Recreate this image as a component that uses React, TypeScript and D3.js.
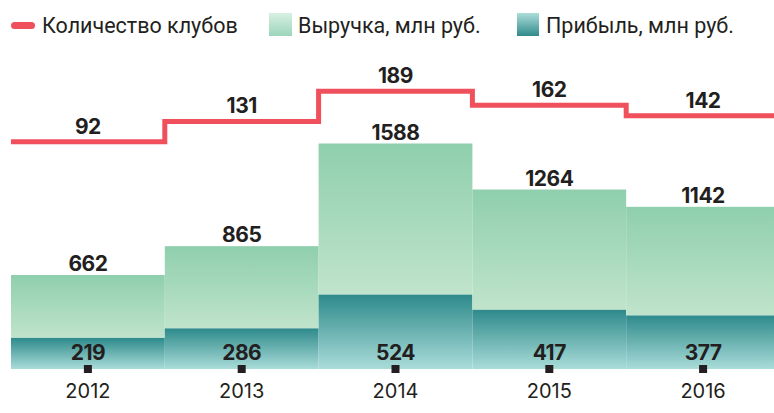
import React from 'react';
import * as d3 from 'd3';

const years = ['2012', '2013', '2014', '2015', '2016'];
const clubs = [92, 131, 189, 162, 142];
const revenue = [662, 865, 1588, 1264, 1142];
const profit = [219, 286, 524, 417, 377];
const legendLabels = ['Количество клубов', 'Выручка, млн руб.', 'Прибыль, млн руб.'];

const W = 774;
const H = 413;
const BASE = 369;
const RED = '#f0505b';
const INK = '#231f20';
const NUM_FONT = 'Inter, "Noto Sans", sans-serif';
const TXT_FONT = 'Roboto, "Noto Sans", sans-serif';

export default function App() {
  const x = d3.scaleBand<string>().domain(years).range([11, 780]).padding(0);
  const bw = x.bandwidth();
  const yMoney = d3.scaleLinear().domain([0, 1588]).range([BASE, 143.5]);
  const yClubs = d3.scaleLinear().domain([92, 189]).range([141.8, 91.3]);

  const pts: [number, number][] = years.map((yr, i) => [x(yr)!, yClubs(clubs[i])]);
  pts.push([x(years[years.length - 1])! + bw, yClubs(clubs[clubs.length - 1])]);
  const stepPath = d3.line().curve(d3.curveStepAfter)(pts) || '';

  return (
    <svg width={W} height={H} style={{ position: 'absolute', left: 0, top: 0, background: '#fff' }}>
      <defs>
        <linearGradient id="gRev" x1="0" y1="0" x2="0" y2="1">
          <stop offset="0" stopColor="#8fcfad" />
          <stop offset="1" stopColor="#c0e4cb" />
        </linearGradient>
        <linearGradient id="gProf" x1="0" y1="0" x2="0" y2="1">
          <stop offset="0" stopColor="#2e8a8b" />
          <stop offset="1" stopColor="#a9dcd9" />
        </linearGradient>
        <linearGradient id="gRevL" x1="0" y1="0" x2="0" y2="1">
          <stop offset="0" stopColor="#d7f0e1" />
          <stop offset="1" stopColor="#9dd5bc" />
        </linearGradient>
        <linearGradient id="gProfL" x1="0" y1="0" x2="0" y2="1">
          <stop offset="0" stopColor="#acdedb" />
          <stop offset="1" stopColor="#2f8a8b" />
        </linearGradient>
      </defs>

      {/* legend */}
      <rect x={11} y={22} width={24} height={7} rx={3.5} fill={RED} />
      <text x={42} y={33} fontFamily={TXT_FONT} fontSize={21.5} fill={INK}>{legendLabels[0]}</text>
      <rect x={269} y={13} width={23} height={23} fill="url(#gRevL)" />
      <text x={298} y={33} fontFamily={TXT_FONT} fontSize={21.5} fill={INK}>{legendLabels[1]}</text>
      <rect x={517} y={13} width={22} height={23} fill="url(#gProfL)" />
      <text x={546} y={33} fontFamily={TXT_FONT} fontSize={21.5} fill={INK}>{legendLabels[2]}</text>

      {/* bars */}
      {years.map((yr, i) => (
        <g key={yr}>
          <rect x={x(yr)!} y={yMoney(revenue[i])} width={bw} height={yMoney(profit[i]) - yMoney(revenue[i])} fill="url(#gRev)" />
          <rect x={x(yr)!} y={yMoney(profit[i])} width={bw} height={BASE - yMoney(profit[i])} fill="url(#gProf)" />
        </g>
      ))}

      {/* step line */}
      <path d={stepPath} fill="none" stroke={RED} strokeWidth={5} strokeLinejoin="miter" />

      {/* labels */}
      {years.map((yr, i) => {
        const cx = x(yr)! + bw / 2;
        return (
          <g key={'l' + yr} fontFamily={NUM_FONT} fontWeight={700} fontSize={21} fill={INK} textAnchor="middle" letterSpacing={-0.5}>
            <text x={cx} y={yClubs(clubs[i]) - 8}>{clubs[i]}</text>
            <text x={cx} y={yMoney(revenue[i]) - 4}>{revenue[i]}</text>
            <text x={cx} y={360}>{profit[i]}</text>
            <rect x={cx - 4} y={365} width={8} height={8} fill={INK} stroke="none" />
            <text x={cx} y={397.5} fontWeight={400} fontSize={20} letterSpacing={0}>{yr}</text>
          </g>
        );
      })}
    </svg>
  );
}
